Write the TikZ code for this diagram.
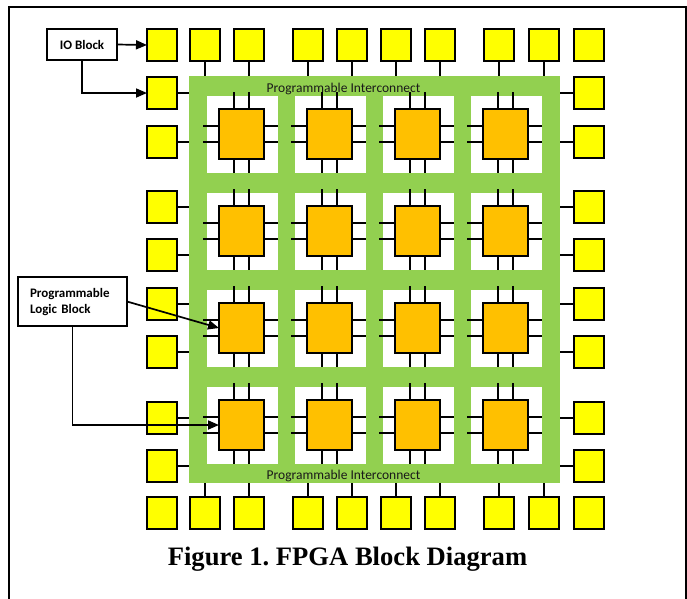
\documentclass[tikz,border=0pt]{standalone}
\usepackage{fontspec}
\setmainfont{Liberation Serif}
\newfontfamily\calibrif{Carlito}
\usetikzlibrary{arrows.meta}
\definecolor{padyellow}{HTML}{FFFF00}
\definecolor{icgreen}{HTML}{92D050}
\definecolor{plborange}{HTML}{FFC000}
\frenchspacing
\begin{document}
\begin{tikzpicture}[x=1pt,y=-1pt,
  pad/.style={draw=black, line width=1.9pt, fill=padyellow, minimum width=30pt, minimum height=32pt, inner sep=0pt, outer sep=0pt},
  cell/.style={fill=white, minimum width=71pt, minimum height=77pt, inner sep=0pt, outer sep=0pt},
  plb/.style={draw=black, line width=1.7pt, fill=plborange, minimum width=45pt, minimum height=50pt, inner sep=0pt, outer sep=0pt},
  pin/.style={line width=1.9pt},
  wire/.style={line width=1.9pt},
  callout/.style={draw=black, line width=1.9pt, fill=white, inner sep=0pt, outer sep=0pt},
  arr/.style={line width=1.7pt, -{Triangle[length=11pt,width=9pt]}},
  lbl/.style={font=\calibrif\fontsize{13.5}{16}\selectfont, text=black!90, inner sep=0pt},
  calltext/.style={font=\calibrif\bfseries\fontsize{13}{16.5}\selectfont}
]
\useasboundingbox (0,0) rectangle (687,598);
\draw[line width=1.9pt] (9,605) -- (9,7) -- (686,7) -- (686,605);

\node[fill=icgreen, minimum width=371pt, minimum height=407pt, inner sep=0pt, outer sep=0pt] (ic) at (374.5,279.5) {};

\foreach \i in {1,...,4}{
  \foreach \j in {1,...,4}{
    \node[cell] (w\j\i) at ({242.5+88*(\i-1)},{134.5+97*(\j-1)}) {};
    \node[plb] (o\j\i) at ({241.5+88*(\i-1)},{134+97*(\j-1)}) {};
    \draw[pin] ([xshift=-7.5pt]o\j\i.north) -- ++(0,-17);
    \draw[pin] ([xshift=7.5pt]o\j\i.north) -- ++(0,-17);
    \draw[pin] ([xshift=-7.5pt]o\j\i.south) -- ++(0,14);
    \draw[pin] ([xshift=7.5pt]o\j\i.south) -- ++(0,14);
    \draw[pin] ([yshift=8pt]o\j\i.west) -- ++(-16,0);
    \draw[pin] ([yshift=-8pt]o\j\i.west) -- ++(-16,0);
    \draw[pin] ([yshift=8pt]o\j\i.east) -- ++(14,0);
    \draw[pin] ([yshift=-8pt]o\j\i.east) -- ++(14,0);
  }
}

\foreach \x [count=\k] in {162,205,249,308,352,396,440,499,544,589} {
  \node[pad] (T\k) at (\x,45) {};
  \node[pad] (B\k) at (\x,513) {};
}
\foreach \y [count=\k] in {93,142,207,255,304,352,418,466} {
  \node[pad] (L\k) at (162,\y) {};
  \node[pad] (R\k) at (589,\y) {};
}
\foreach \k in {2,...,9} {
  \draw[wire] (T\k.south) -- (T\k.south |- ic.north);
  \draw[wire] (B\k.north) -- (B\k.north |- ic.south);
}
\foreach \k in {1,...,8} {
  \draw[wire] (L\k.east) -- (L\k.east -| ic.west);
  \draw[wire] (R\k.west) -- (R\k.west -| ic.east);
}

\node[lbl, anchor=base] (ict) at (343.5,92) {Programmable Interconnect};
\node[lbl, anchor=base] (icb) at (343.5,479.5) {Programmable Interconnect};

\node[callout, calltext, minimum width=70pt, minimum height=31pt] (io) at (82,44.5) {IO Block};
\node[callout, minimum width=109pt, minimum height=49pt] (plbl) at (72.5,301.5) {};
\node[calltext, align=left, text width=85pt, inner sep=0pt] (plbt) at (72.5,302) {Programmable\\Logic Block};

\draw[arr] (io.east) -- (T1.west);
\draw[arr] (io.south) |- (L1.west);
\draw[arr] (plbl.east) -- (o31.west);
\draw[arr] (plbl.south) |- (o41.west);

\node[font=\bfseries\fontsize{26.6}{30}\selectfont, anchor=base, inner sep=0pt] (cap) at (347.5,565) {Figure 1. FPGA Block Diagram};
\end{tikzpicture}
\end{document}
